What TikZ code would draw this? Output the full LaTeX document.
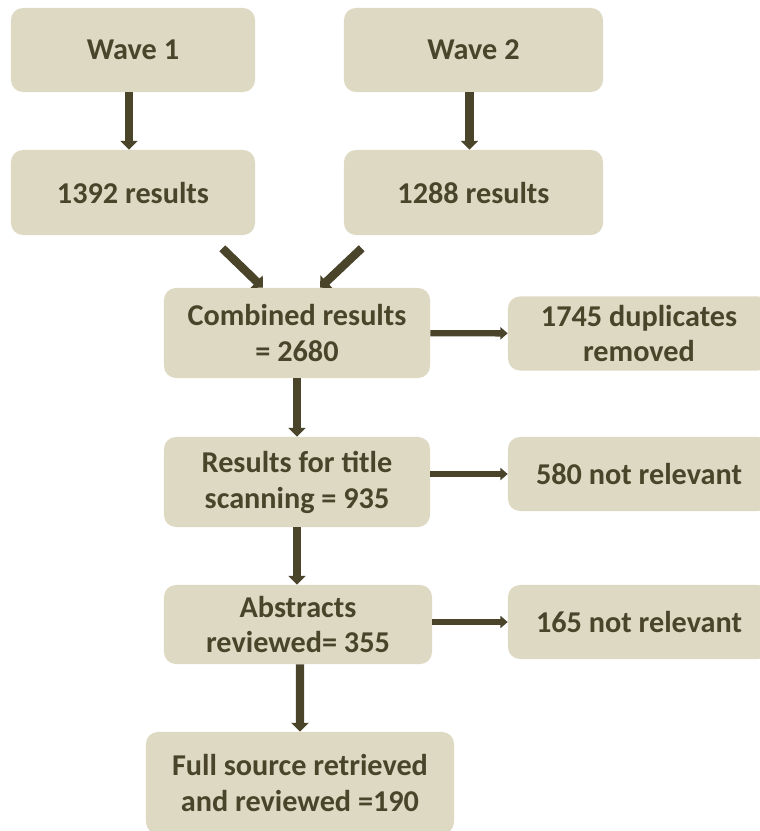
\documentclass[tikz,border=0pt]{standalone}
\usepackage{fontspec}
\setmainfont{Carlito}
\usepackage{xcolor}
\definecolor{cFill}{HTML}{DDD9C3}
\definecolor{cText}{HTML}{4A452A}
\usepackage{tikz}
\usetikzlibrary{positioning,arrows.meta,calc}
\tikzset{
  node-box/.style={fill=cFill,rounded corners=0.3cm,inner sep=0pt,
    align=center,text=cText,font=\fontsize{21.5}{25.5}\selectfont\bfseries},
  node-wave/.style={node-box,minimum height=2.1cm},
  node-step/.style={node-box,minimum width=6.65cm,minimum height=2.25cm},
  node-side/.style={node-box,minimum width=6.55cm,minimum height=1.85cm},
  arrow/.style={-{Triangle[width=0.42cm,length=0.22cm]},line width=0.21cm,draw=cText},
  arrow-side/.style={-{Triangle[width=0.3cm,length=0.18cm]},line width=0.16cm,draw=cText},
}

\begin{document}
\begin{tikzpicture}[x=0.025cm,y=-0.025cm]
  \useasboundingbox (0,0) rectangle (760,831);
  \node[node-wave,minimum width=6.1cm] (w1) at (133,50) {Wave 1};
  \node[node-wave,minimum width=6.475cm] (w2) at (473.5,50) {Wave 2};
  \node[node-wave,minimum width=6.1cm,minimum height=2.125cm] (r1) at (133,192.5) {1392 results};
  \node[node-wave,minimum width=6.475cm,minimum height=2.125cm] (r2) at (473.5,192.5) {1288 results};
  \node[node-step] (comb) at (297,333) {Combined results\\= 2680};
  \node[node-side] (dup) at (639,333.5) {1745 duplicates\\removed};
  \node[node-step] (title) at (297,482) {Results for title\\scanning = 935};
  \node[node-side] (nr1) at (639,474) {580 not relevant};
  \node[node-step,minimum width=6.7cm,minimum height=1.975cm] (abs) at (298,624.5) {Abstracts\\reviewed= 355};
  \node[node-side] (nr2) at (639,622) {165 not relevant};
  \node[node-box,minimum width=7.7cm,minimum height=2.55cm] (full) at (300,783) {Full source retrieved\\and reviewed =190};
  \draw[arrow] ([xshift=-0.1cm]w1.south) -- ([xshift=-0.1cm]r1.north);
  \draw[arrow] ([xshift=-0.1cm]w2.south) -- ([xshift=-0.1cm]r2.north);
  \draw[arrow] ([xshift=-0.825cm,yshift=-0.325cm]r1.south east) -- ([xshift=-0.85cm]comb.north);
  \draw[arrow] ([xshift=0.45cm,yshift=-0.325cm]r2.south west) -- ([xshift=0.575cm]comb.north);
  \draw[arrow] (comb) -- (title);
  \draw[arrow] (title) -- (abs.north -| title);
  \draw[arrow] ([xshift=0.05cm]abs.south) -- (full);
  \draw[arrow-side] (comb) -- (dup);
  \draw[arrow-side] (title.east |- nr1.west) -- (nr1.west);
  \draw[arrow-side] (abs.east |- nr2.west) -- (nr2.west);
\end{tikzpicture}
\end{document}
